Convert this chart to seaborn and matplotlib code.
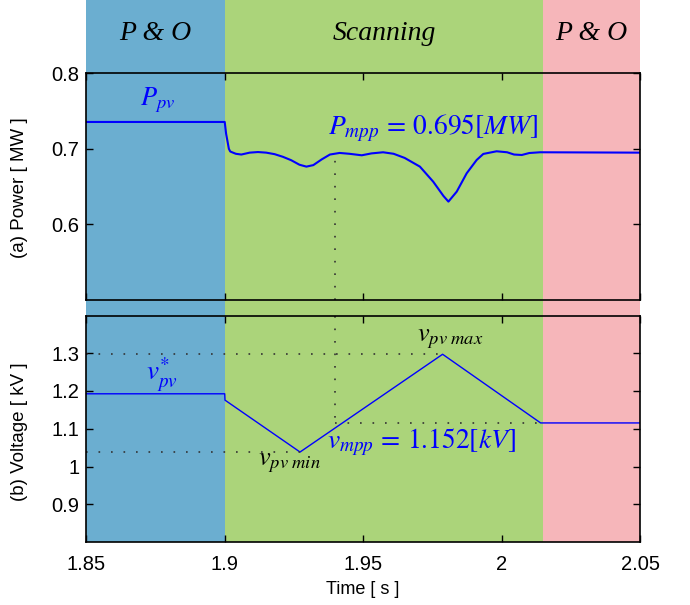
import numpy as np
import pandas as pd
import matplotlib
matplotlib.use("Agg")
import matplotlib.pyplot as plt
import seaborn as sns

# ---------------- data ----------------
t_power = [1.850, 1.900, 1.9005, 1.9015, 1.902, 1.904, 1.906, 1.909, 1.912, 1.915,
           1.918, 1.921, 1.924, 1.927, 1.9295, 1.932, 1.935, 1.938, 1.9415, 1.945,
           1.9495, 1.953, 1.9572, 1.961, 1.965, 1.9705, 1.9753, 1.979, 1.9808, 1.9838,
           1.9874, 1.991, 1.9934, 1.9982, 2.002, 2.0045, 2.0073, 2.010, 2.0139, 2.050]
p_power = [0.7356, 0.7356, 0.7200, 0.7000, 0.6965, 0.6935, 0.6925, 0.6950, 0.6958, 0.6950,
           0.6930, 0.6895, 0.6850, 0.6790, 0.6765, 0.6785, 0.6860, 0.6925, 0.6946, 0.6935,
           0.6915, 0.6940, 0.6955, 0.6935, 0.6880, 0.6765, 0.6566, 0.6377, 0.6302, 0.6434,
           0.6677, 0.6853, 0.6933, 0.6968, 0.6955, 0.6925, 0.6919, 0.6945, 0.6955, 0.6950]

t_volt = [1.850, 1.900, 1.9001, 1.9272, 1.9787, 2.0141, 2.050]
v_volt = [1.1926, 1.1926, 1.1758, 1.0383, 1.2973, 1.1154, 1.1154]

t_mpp = 1.940
p_mpp_level = 0.6946
v_max, t_vmax = 1.2973, 1.9787
v_min, t_vmin = 1.0383, 1.9272
v_end, t_end = 1.1154, 2.0141

mode_edges = [1.85, 1.90, 2.015, 2.05]
mode_labels = ["P & O", "Scanning", "P & O"]
mode_colors = ["#6baed0", "#abd47a", "#f6b6ba"]

xticks = [1.85, 1.9, 1.95, 2.0, 2.05]
xticklabels = ["1.85", "1.9", "1.95", "2", "2.05"]
p_ticks = [0.6, 0.7, 0.8]
v_ticks = [0.9, 1.0, 1.1, 1.2, 1.3]

# ---------------- style ----------------
sns.set_style("ticks")
plt.rcParams["font.family"] = ["Liberation Sans", "DejaVu Sans"]
plt.rcParams["mathtext.fontset"] = "stix"
for k in ["text.color", "axes.labelcolor", "xtick.color", "ytick.color", "axes.edgecolor"]:
    plt.rcParams[k] = "black"

W, H = 690, 605
fig = plt.figure(figsize=(W / 100, H / 100), dpi=100)

def fx(px):
    return px / W

def fy(py):
    return 1 - py / H

L, R = 86.3, 640.0
ax_bg = fig.add_axes([fx(L), fy(542), fx(R) - fx(L), fy(0) - fy(542)])
ax_bg.set_xlim(1.85, 2.05)
ax_bg.set_ylim(0, 1)
ax_bg.axis("off")
for i in range(3):
    ax_bg.axvspan(mode_edges[i], mode_edges[i + 1], color=mode_colors[i], lw=0)
hdr_y = 1 - 33.5 / 542
for i in range(3):
    xc = (mode_edges[i] + mode_edges[i + 1]) / 2
    ax_bg.text(xc, hdr_y, mode_labels[i], ha="center", va="center",
               fontsize=20, fontstyle="italic", family="Liberation Serif", color="black")

ax1 = fig.add_axes([fx(L), fy(300), fx(R) - fx(L), fy(73.3) - fy(300)])
ax2 = fig.add_axes([fx(L), fy(542), fx(R) - fx(L), fy(315.5) - fy(542)])
for ax in (ax1, ax2):
    ax.patch.set_alpha(0)
    for s in ax.spines.values():
        s.set_visible(True)
        s.set_linewidth(1.2)
        s.set_color("black")
    ax.set_xlim(1.85, 2.05)
    ax.set_xticks(xticks)
    ax.tick_params(direction="in", top=True, right=True, length=5, width=1,
                   labelsize=14.5, pad=5, colors="black")
    ax.tick_params(axis="x", pad=9)

df_p = pd.DataFrame({"t": t_power, "p": p_power})
df_v = pd.DataFrame({"t": t_volt, "v": v_volt})

sns.lineplot(data=df_p, x="t", y="p", ax=ax1, color="#0000ff", lw=1.5,
             sort=False, estimator=None)
sns.lineplot(data=df_v, x="t", y="v", ax=ax2, color="#0000ff", lw=1.0,
             sort=False, estimator=None)

ax1.set_ylim(0.5, 0.8)
ax1.set_yticks(p_ticks)
ax1.set_yticklabels(["0.6", "0.7", "0.8"])
ax1.set_xticklabels([])
ax1.set_xlabel("")
ax1.set_ylabel("")

ax2.set_ylim(0.8, 1.4)
ax2.set_yticks(v_ticks)
ax2.set_yticklabels(["0.9", "1", "1.1", "1.2", "1.3"])
ax2.set_xticklabels(xticklabels)
ax2.set_xlabel("")
ax2.set_ylabel("")

dot = dict(color="#333333", lw=1.2, linestyle=(0, (1, 6.5)))
ax1.plot([t_mpp, t_mpp], [0.5, p_mpp_level], **dot)
ax2.plot([t_mpp, t_mpp], [1.4, v_end], **dot)
ax2.plot([1.85, t_vmax], [v_max, v_max], **dot)
ax2.plot([1.85, t_vmin], [v_min, v_min], **dot)
ax2.plot([t_mpp, t_end], [v_end, v_end], **dot)

ax1.text(1.8757, 0.764, "$P_{pv}$", color="#0000ff", fontsize=19, ha="center", va="center")
ax1.text(1.9372, 0.727, "$P_{mpp}\\,=\\,0.695[MW]$", color="#0000ff", fontsize=19.8,
         ha="left", va="center")
ax2.text(1.8772, 1.245, "$v^{*}_{pv}$", color="#0000ff", fontsize=19.5, ha="center", va="center")
ax2.text(1.9120, 1.010, "$v_{pv\\ min}$", color="black", fontsize=19, ha="left", va="center")
ax2.text(1.9694, 1.337, "$v_{pv\\ max}$", color="black", fontsize=19, ha="left", va="center")
ax2.text(1.9368, 1.065, "$v_{mpp}\\,=\\,1.152[kV]$", color="#0000ff", fontsize=19.8,
         ha="left", va="center")

fig.text(fx(20), fy(188), "(a) Power [ MW ]", rotation=90, ha="center", va="center",
         fontsize=13.5)
fig.text(fx(20), fy(432), "(b) Voltage [ kV ]", rotation=90, ha="center", va="center",
         fontsize=13.5)
fig.text(fx(363), fy(590), "Time [ s ]", ha="center", va="center", fontsize=13)

fig.savefig("out.png", dpi=100)
